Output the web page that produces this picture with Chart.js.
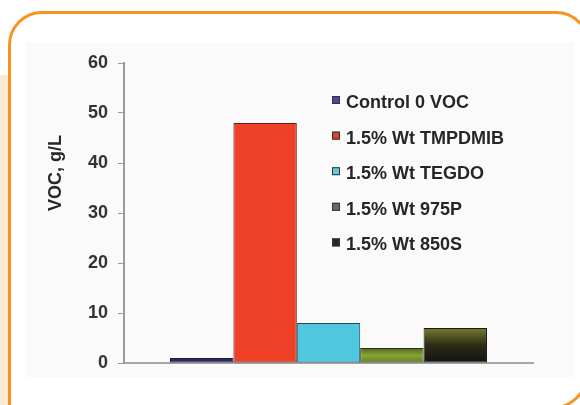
<!DOCTYPE html>
<html>
<head>
<meta charset="utf-8">
<script src="https://cdn.jsdelivr.net/npm/chart.js@4.4.1/dist/chart.umd.min.js"></script>
<style>
  html, body { margin: 0; padding: 0; background: #fff; }
  #wrap { position: relative; width: 580px; height: 405px; overflow: hidden; background: #fff; }
  #band { position: absolute; left: 0; top: 75px; width: 10px; height: 330px; background: #fde8d6; }
  #frame { position: absolute; left: 8px; top: 11px; width: 576px; height: 393px;
           border: 3px solid #f7931e; border-radius: 34px 34px 40px 0; background: #fff; }
  #panel { position: absolute; left: 25px; top: 42px; width: 550px; height: 335px; background: #fafafa; }
  #voc-chart { position: absolute; left: 0; top: 0; }
</style>
</head>
<body>
<div id="wrap">
  <div id="band"></div>
  <div id="frame"></div>
  <div id="panel"></div>
  <canvas id="voc-chart" width="580" height="405"></canvas>
</div>
<script>
const categories = [""];
const seriesNames = [
  "Control 0 VOC",
  "1.5% Wt TMPDMIB",
  "1.5% Wt TEGDO",
  "1.5% Wt 975P",
  "1.5% Wt 850S",
];
const seriesValues = [1, 48, 8, 3, 7];
const yTicks = [0, 10, 20, 30, 40, 50, 60];

const fontFamily = "'Liberation Sans', Arial, sans-serif";
const textColor = "#262626";

// bar fills, some of them are gradients in the picture
const barFills = [
  ["#2c2a5c"],
  ["#ee4128"],
  ["#4fc7de"],
  ["#55681e", "#86a534", "#5f7d22"],
  ["#7a7a30", "#2b2b16", "#121212"],
];
const barBorders = ["#1c1b3a", "#5a2418", "#24485a", "#2a3010", "#1a1a10"];
const swatchColors = ["#4a47a8", "#d8442a", "#63c8dc", "#6a6a55", "#262626"];

function barFill(i) {
  return (ctx) => {
    const stops = barFills[i];
    const chart = ctx.chart;
    if (stops.length === 1 || !chart.chartArea) return stops[0];
    const y = chart.scales.y;
    const top = y.getPixelForValue(seriesValues[i]);
    const bottom = y.getPixelForValue(0);
    const g = chart.ctx.createLinearGradient(0, top, 0, bottom);
    stops.forEach((c, k) => g.addColorStop(k / (stops.length - 1), c));
    return g;
  };
}

// legend box inside the plot, right of the tall bar
const boxLegend = {
  id: "boxLegend",
  afterDraw(chart) {
    const ctx = chart.ctx;
    const area = chart.chartArea;
    ctx.save();
    ctx.font = "bold 18px " + fontFamily;
    ctx.textBaseline = "middle";
    ctx.textAlign = "left";
    seriesNames.forEach((name, i) => {
      const cy = area.top + 40 + i * 35.6;
      ctx.fillStyle = swatchColors[i];
      ctx.fillRect(area.left + 208, cy - 7, 8, 8);
      ctx.strokeStyle = "#333";
      ctx.lineWidth = 1;
      ctx.strokeRect(area.left + 208.5, cy - 6.5, 7, 7);
      ctx.fillStyle = textColor;
      ctx.fillText(name, area.left + 222, cy);
    });
    ctx.restore();
  },
};

// y axis title sits above the axis middle in the picture
const yTitle = {
  id: "yTitle",
  afterDraw(chart) {
    const ctx = chart.ctx;
    const area = chart.chartArea;
    ctx.save();
    ctx.translate(56, area.top + 110);
    ctx.rotate(-Math.PI / 2);
    ctx.font = "bold 18px " + fontFamily;
    ctx.fillStyle = textColor;
    ctx.textAlign = "center";
    ctx.textBaseline = "middle";
    ctx.fillText("VOC, g/L", 0, 0);
    ctx.restore();
  },
};

const vocChart = new Chart(document.getElementById("voc-chart").getContext("2d"), {
  type: "bar",
  data: {
    labels: categories,
    datasets: seriesNames.map((name, i) => ({
      label: name,
      data: [seriesValues[i]],
      backgroundColor: barFill(i),
      borderColor: barBorders[i],
      borderWidth: 1,
      borderSkipped: false,
      barPercentage: 1,
      categoryPercentage: 0.775,
    })),
  },
  options: {
    responsive: false,
    animation: false,
    devicePixelRatio: 1,
    layout: { padding: { left: 41, right: 47, top: 63, bottom: 42 } },
    plugins: {
      legend: { display: false },
      tooltip: { enabled: false },
    },
    scales: {
      x: {
        grid: { display: false },
        ticks: { display: false },
        border: { display: true, color: "#a6a6a6", width: 2 },
        afterFit: (scale) => { scale.height = 0; },
      },
      y: {
        min: 0,
        max: 60,
        afterBuildTicks: (scale) => { scale.ticks = yTicks.map((v) => ({ value: v })); },
        grid: { display: true, drawOnChartArea: false, drawTicks: true, tickLength: 6, color: "#9a9a9a" },
        border: { display: true, color: "#9a9a9a", width: 2 },
        ticks: {
          padding: 10,
          color: "#333",
          font: { family: fontFamily, size: 18, weight: "bold" },
        },
        afterFit: (scale) => { scale.width = 83; },
      },
    },
  },
  plugins: [boxLegend, yTitle],
});
</script>
</body>
</html>
